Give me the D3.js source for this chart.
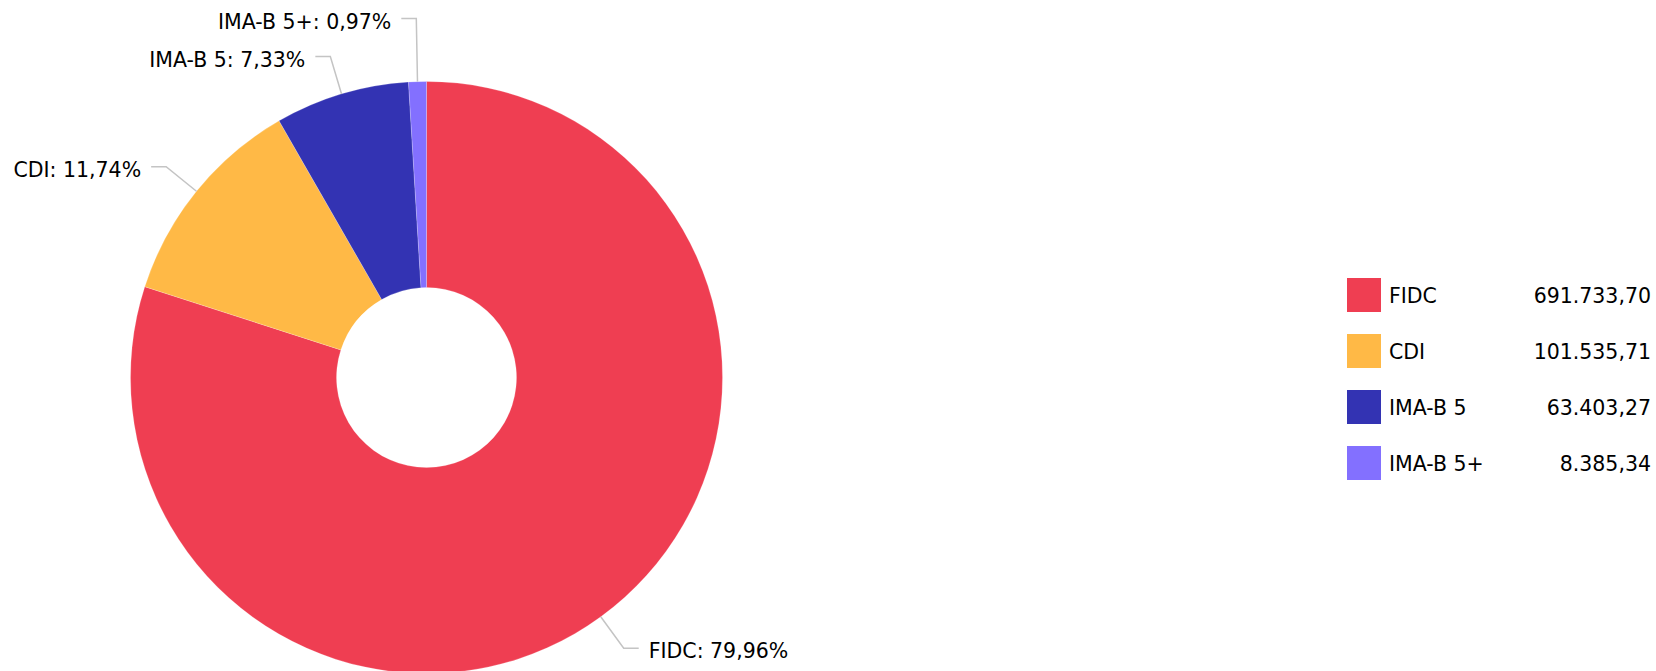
<!DOCTYPE html>
<html>
<head>
<meta charset="utf-8">
<script src="https://cdn.jsdelivr.net/npm/d3@7"></script>
<style>
    html, body { margin: 0; padding: 0; background: #fff; }
    svg { display: block; font-family: 'DejaVu Sans', Verdana, sans-serif; }
</style>
</head>
<body>
<svg id="chart" width="1656" height="671"></svg>
<script>
const CATEGORIES = ['FIDC', 'CDI', 'IMA-B 5', 'IMA-B 5+'];
const VALUES = [691733.70, 101535.71, 63403.27, 8385.34];
const VALUE_LABELS = ['691.733,70', '101.535,71', '63.403,27', '8.385,34'];
const COLOURS = ['#ef3e52', '#ffb946', '#3333b3', '#8370ff'];

const CENTER_X = 426.5;
const CENTER_Y = 377.5;
const OUTER_RADIUS = 296;
const INNER_RADIUS = 90;
const LEADER_LENGTH = 39;
const LEADER_TAIL = 15;
const LABEL_GAP = 10;
const LABEL_SPACING = 38;
const FONT_SIZE = 20.5;

const LEGEND_X = 1347;
const LEGEND_Y = 278;
const LEGEND_ROW = 56;
const LEGEND_SWATCH = 34;
const LEGEND_VALUE_X = 1651;

const total = d3.sum(VALUES);
const formatPercent = v => (v / total * 100).toFixed(2).replace('.', ',') + '%';

const data = CATEGORIES.map((name, i) => ({
    name,
    value: VALUES[i],
    valueLabel: VALUE_LABELS[i],
    colour: COLOURS[i]
}));

const svg = d3.select('#chart');

const pie = d3.pie()
    .value(d => d.value)
    .sort(null);

const arc = d3.arc()
    .innerRadius(INNER_RADIUS)
    .outerRadius(OUTER_RADIUS);

const arcs = pie(data);

const chart = svg.append('g')
    .attr('transform', `translate(${CENTER_X},${CENTER_Y})`);

chart.selectAll('path.slice')
    .data(arcs)
    .enter()
    .append('path')
    .attr('class', 'slice')
    .attr('d', arc)
    .attr('fill', d => d.data.colour)
    .attr('stroke', '#ffffff')
    .attr('stroke-opacity', 0.4)
    .attr('stroke-width', 0.5);

// label positions: radial point, bend point, then push apart vertically
const labels = arcs.map(d => {
    const angle = (d.startAngle + d.endAngle) / 2;
    const sin = Math.sin(angle);
    const cos = Math.cos(angle);
    const bendRadius = OUTER_RADIUS + LEADER_LENGTH;
    return {
        d,
        left: sin < 0,
        x0: OUTER_RADIUS * sin,
        y0: -OUTER_RADIUS * cos,
        x1: bendRadius * sin,
        y1: -bendRadius * cos
    };
});

const spreadLabels = group => {
    group.sort((a, b) => b.y1 - a.y1);
    for (let i = 1; i < group.length; i++) {
        if (group[i - 1].y1 - group[i].y1 < LABEL_SPACING) {
            group[i].y1 = group[i - 1].y1 - LABEL_SPACING;
        }
    }
};
spreadLabels(labels.filter(l => l.left));
spreadLabels(labels.filter(l => !l.left));

labels.forEach(l => {
    l.x2 = l.x1 + (l.left ? -LEADER_TAIL : LEADER_TAIL);
});

chart.selectAll('polyline.leader')
    .data(labels)
    .enter()
    .append('polyline')
    .attr('class', 'leader')
    .attr('points', l => `${l.x0},${l.y0} ${l.x1},${l.y1} ${l.x2},${l.y1}`)
    .attr('fill', 'none')
    .attr('stroke', '#c4c4c4')
    .attr('stroke-width', 1.5);

chart.selectAll('text.slice-label')
    .data(labels)
    .enter()
    .append('text')
    .attr('class', 'slice-label')
    .attr('x', l => l.x2 + (l.left ? -LABEL_GAP : LABEL_GAP))
    .attr('y', l => l.y1 + 3)
    .attr('dy', '0.35em')
    .attr('text-anchor', l => l.left ? 'end' : 'start')
    .attr('font-size', FONT_SIZE)
    .attr('fill', '#000')
    .text(l => `${l.d.data.name}: ${formatPercent(l.d.data.value)}`);

// legend
const legendY = d3.scaleBand()
    .domain(CATEGORIES)
    .range([LEGEND_Y, LEGEND_Y + LEGEND_ROW * CATEGORIES.length])
    .paddingInner(0);

const legend = svg.append('g').attr('class', 'legend');

const rows = legend.selectAll('g.row')
    .data(data)
    .enter()
    .append('g')
    .attr('class', 'row')
    .attr('transform', d => `translate(0,${legendY(d.name)})`);

rows.append('rect')
    .attr('x', LEGEND_X)
    .attr('y', 0)
    .attr('width', LEGEND_SWATCH)
    .attr('height', LEGEND_SWATCH)
    .attr('fill', d => d.colour);

rows.append('text')
    .attr('x', LEGEND_X + LEGEND_SWATCH + 8)
    .attr('y', LEGEND_SWATCH / 2 + 1)
    .attr('dy', '0.35em')
    .attr('font-size', FONT_SIZE)
    .attr('fill', '#000')
    .text(d => d.name);

rows.append('text')
    .attr('x', LEGEND_VALUE_X)
    .attr('y', LEGEND_SWATCH / 2 + 1)
    .attr('dy', '0.35em')
    .attr('text-anchor', 'end')
    .attr('font-size', FONT_SIZE)
    .attr('fill', '#000')
    .text(d => d.valueLabel);
</script>
</body>
</html>
